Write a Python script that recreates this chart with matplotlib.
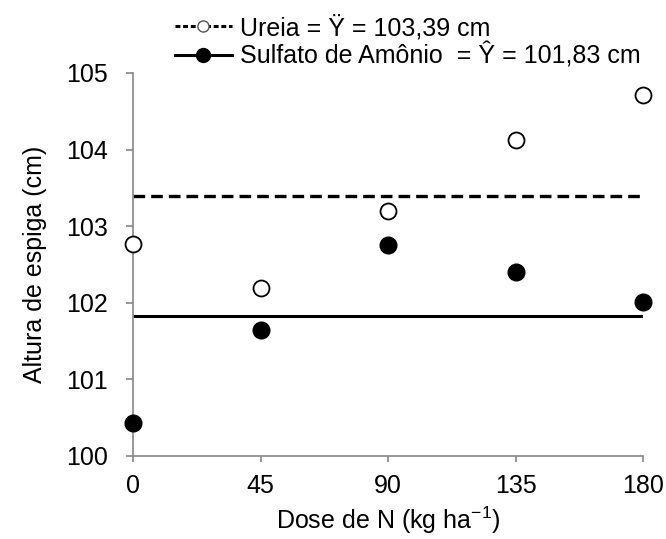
import matplotlib
matplotlib.use("Agg")
import matplotlib.pyplot as plt
from matplotlib.lines import Line2D

plt.rcParams['font.family'] = ['Liberation Sans', 'DejaVu Sans']

doses = [0, 45, 90, 135, 180]
ureia = [102.77, 102.19, 103.20, 104.13, 104.71]
sulfato = [100.43, 101.64, 102.75, 102.40, 102.01]
ureia_mean = 103.39
sulfato_mean = 101.83
xticks = [0, 45, 90, 135, 180]
yticks = [100, 101, 102, 103, 104, 105]

fig = plt.figure(figsize=(6.66, 5.39), dpi=100)
ax = fig.add_axes([0.1997, 0.154, 0.7658, 0.7106])

ax.plot([doses[0], doses[-1]], [ureia_mean, ureia_mean], color='black', lw=2.4,
        dashes=(3.5, 1.8), solid_capstyle='butt', dash_capstyle='butt', zorder=2)
ax.plot([doses[0], doses[-1]], [sulfato_mean, sulfato_mean], color='black', lw=2.2,
        solid_capstyle='butt', zorder=2)
ax.plot(doses, ureia, 'o', mfc='white', mec='black', mew=1.3, ms=11.5, clip_on=False, zorder=3)
ax.plot(doses, sulfato, 'o', mfc='black', mec='black', ms=12, clip_on=False, zorder=3)

ax.set_xlim(0, 180)
ax.set_ylim(100, 105)
ax.set_xticks(xticks)
ax.set_yticks(yticks)
ax.tick_params(axis='both', labelsize=18, colors='#888888', labelcolor='black', width=1.2)
ax.tick_params(axis='y', length=5, pad=13)
ax.tick_params(axis='x', length=4, pad=9)
for s in ['top', 'right']:
    ax.spines[s].set_visible(False)
for s in ['left', 'bottom']:
    ax.spines[s].set_color('#888888')
    ax.spines[s].set_linewidth(1.2)

ax.set_ylabel('Altura de espiga (cm)', fontsize=18, labelpad=14)
ax.set_xlabel('Dose de N (kg ha$^{\\mathregular{-1}}$)', fontsize=18, labelpad=5)

h1 = Line2D([], [], color='black', lw=2.2, dashes=(1.6, 0.9), marker='o', mfc='white', mec='#555555', ms=8, mew=1)
h2 = Line2D([], [], color='black', lw=2.2, marker='o', mfc='black', mec='black', ms=10)
leg = fig.legend([h1, h2], ['Ureia = Ÿ = 103,39 cm', 'Sulfato de Amônio  = Ŷ = 101,83 cm'],
                 loc='upper left', bbox_to_anchor=(0.232, 1.01), frameon=False, fontsize=18,
                 handlelength=2.3, handletextpad=0.3, labelspacing=0.1, borderpad=0.3)

fig.savefig('out.png', dpi=100)
